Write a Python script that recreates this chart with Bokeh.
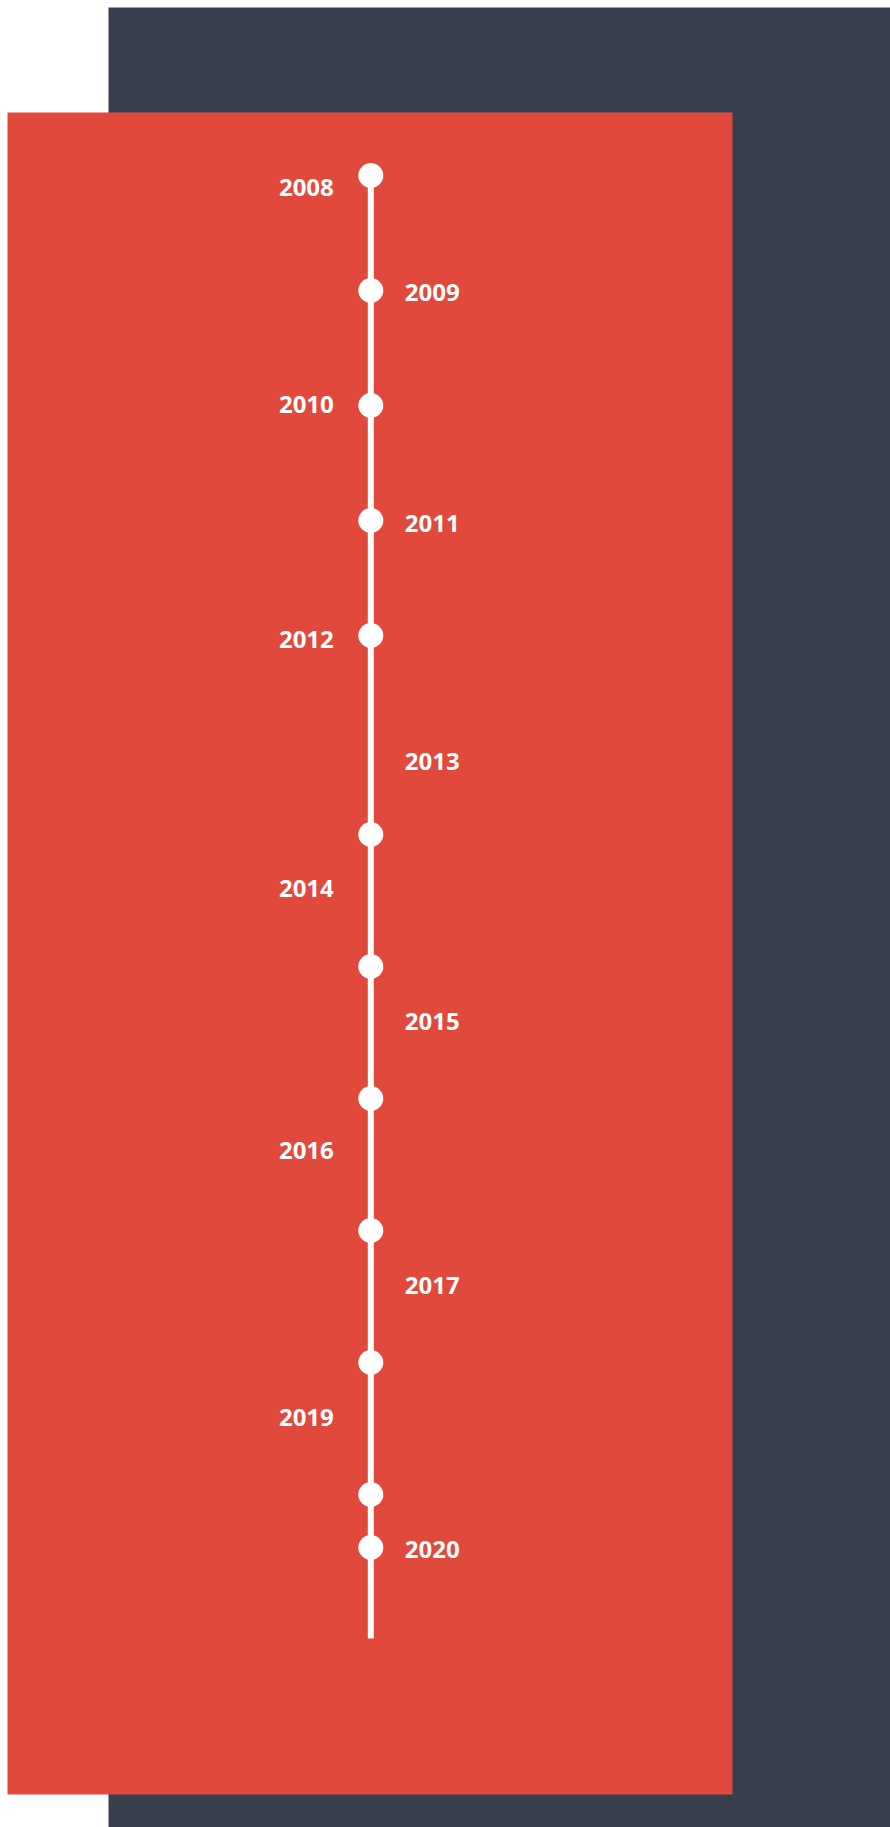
from bokeh.plotting import figure
from bokeh.models import Range1d, BoxAnnotation, ColumnDataSource
from bokeh.core.properties import value
from bokeh.embed import file_html
from bokeh.resources import INLINE

# ---- data (timeline positions, in px from the top) ----
years = ["2008", "2009", "2010", "2011", "2012", "2013",
         "2014", "2015", "2016", "2017", "2019", "2020"]
label_pos = [188, 293, 405, 524, 640, 762, 889, 1022, 1151, 1286, 1418, 1550]
dot_pos = [175, 290, 405, 520, 635, 834, 966, 1098, 1230, 1362, 1494, 1547]
sides = ["left", "right"] * 6
timeline_end = 1638

W, H = 890, 1827
AXIS_X = 370.3
RED = "#e1493d"
DARK = "#363f4b"

p = figure(width=W, height=H, output_backend="svg", toolbar_location=None,
           x_range=Range1d(0, W), y_range=Range1d(H, 0),
           x_axis_location=None, y_axis_location=None,
           min_border=0, min_border_left=0, min_border_right=0,
           min_border_top=0, min_border_bottom=0)
p.grid.visible = False
p.outline_line_color = None
p.background_fill_color = "white"
p.border_fill_color = "white"

# background panels
p.add_layout(BoxAnnotation(left=108, right=W, top=7, bottom=H,
                           fill_color=DARK, fill_alpha=1, line_color=None, level="underlay"))
p.add_layout(BoxAnnotation(left=7, right=732, top=112, bottom=1794,
                           fill_color=RED, fill_alpha=1, line_color=None, level="underlay"))

# timeline axis line
p.segment(x0=[AXIS_X], y0=[dot_pos[0]], x1=[AXIS_X], y1=[timeline_end],
          line_color="white", line_width=6)

# dots
p.scatter(x=[AXIS_X] * len(dot_pos), y=dot_pos, size=25,
          fill_color="white", line_color=None)

# labels
left_src = ColumnDataSource(dict(
    x=[AXIS_X - 37] * sum(s == "left" for s in sides),
    y=[y for y, s in zip(label_pos, sides) if s == "left"],
    t=[t for t, s in zip(years, sides) if s == "left"]))
right_src = ColumnDataSource(dict(
    x=[AXIS_X + 34] * sum(s == "right" for s in sides),
    y=[y for y, s in zip(label_pos, sides) if s == "right"],
    t=[t for t, s in zip(years, sides) if s == "right"]))

common = dict(text="t", text_color="white", text_font=value("Open Sans"),
              text_font_style="bold", text_font_size="24px",
              text_baseline="alphabetic", y_offset=-1)
p.text(x="x", y="y", source=left_src, text_align="right", **common)
p.text(x="x", y="y", source=right_src, text_align="left", **common)

open("out.html", "w").write(file_html(p, INLINE))
